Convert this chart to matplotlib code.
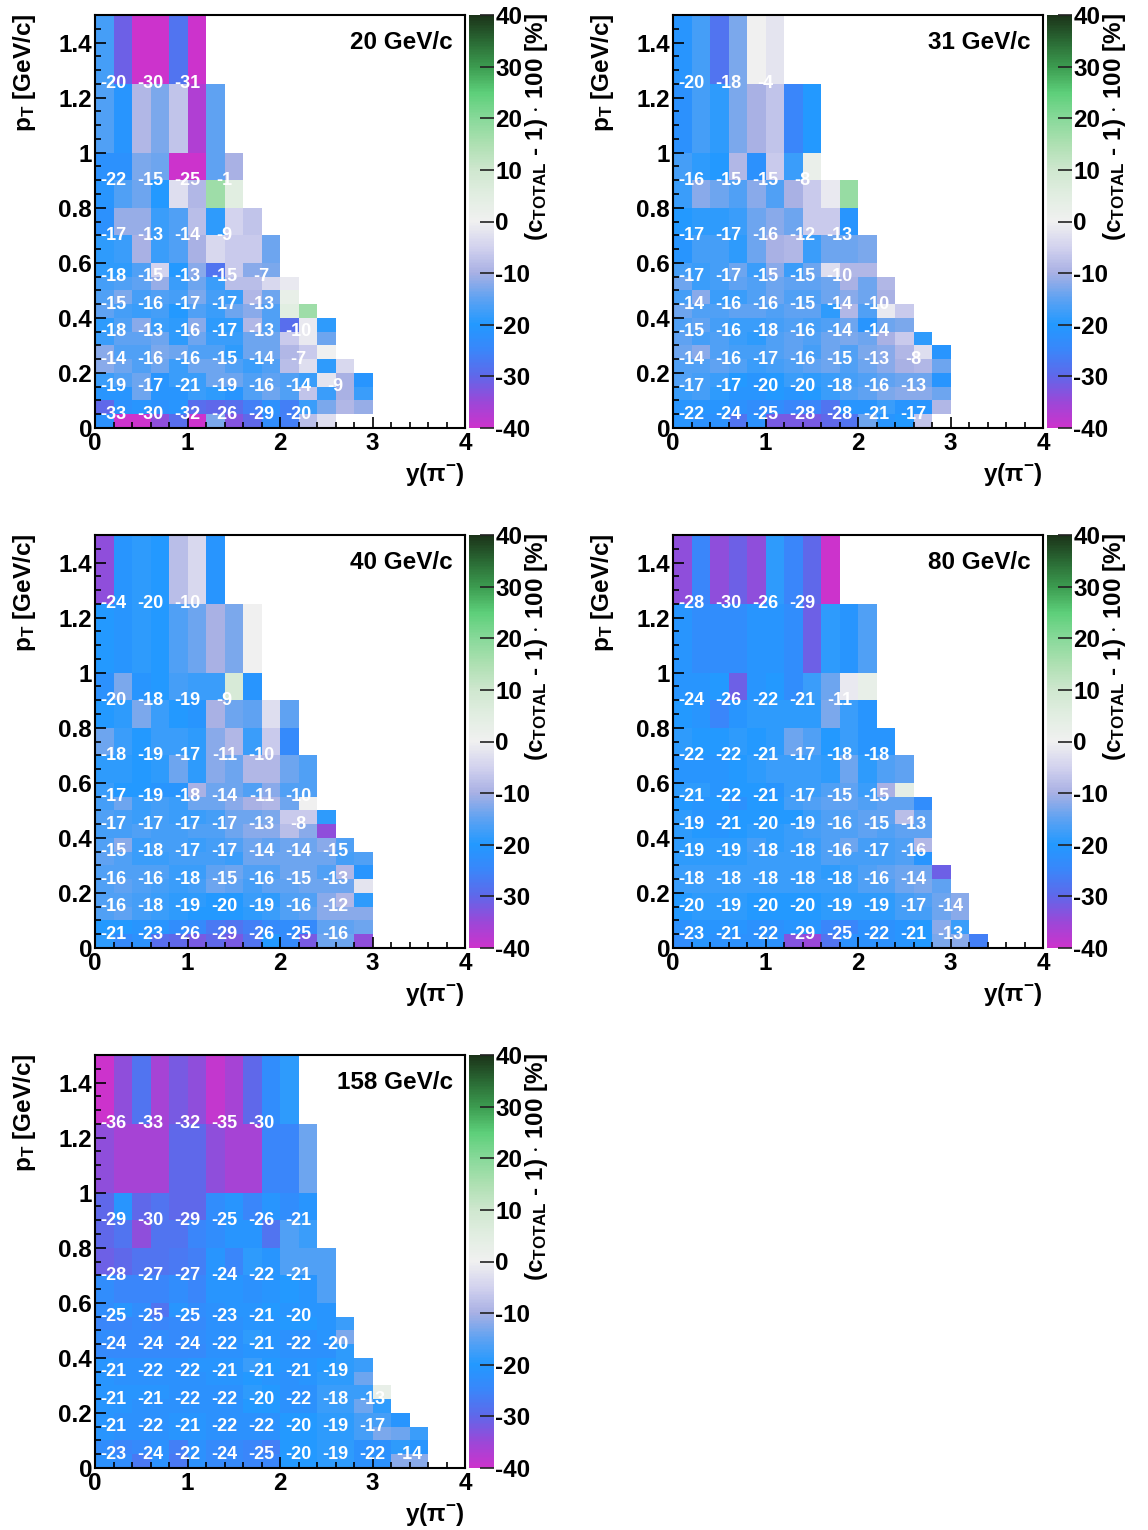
import numpy as np
import matplotlib
matplotlib.use('Agg')
import matplotlib.pyplot as plt
from matplotlib.colors import LinearSegmentedColormap, Normalize

plt.rcParams['font.family'] = ['Liberation Sans', 'DejaVu Sans']
plt.rcParams['font.weight'] = 'bold'
plt.rcParams['axes.unicode_minus'] = False
plt.rcParams['mathtext.fontset'] = 'custom'
plt.rcParams['mathtext.rm'] = 'Liberation Sans:bold'
plt.rcParams['mathtext.bf'] = 'Liberation Sans:bold'
plt.rcParams['mathtext.it'] = 'Liberation Sans:bold'

# ---------------- data ----------------
energies = ['20 GeV/c', '31 GeV/c', '40 GeV/c', '80 GeV/c', '158 GeV/c']
y_edges = [0.2 * i for i in range(21)]
pt_edges = [0, 0.05, 0.1, 0.15, 0.2, 0.25, 0.3, 0.35, 0.4, 0.45, 0.5, 0.55, 0.6,
            0.7, 0.8, 0.9, 1.0, 1.25, 1.5]
coarse_pt = [0.05, 0.15, 0.25, 0.35, 0.45, 0.55, 0.7, 0.9, 1.25]
coarse_y = [0.2, 0.6, 1.0, 1.4, 1.8, 2.2, 2.6, 3.0, 3.4, 3.8]

# fine cells, rows listed from top (pT 1.25-1.5) to bottom (pT 0-0.05)
fine_20 = [
    [-17, -31, -40, -40, -28, -40],
    [-16, -21, -9, -13, -7, -37, -15],
    [-22, -22, -13, -14, -40, -40, -15, -10],
    [-21, -16, -14, -20, -3, -9, 17, 5],
    [-22, -11, -11, -18, -16, -8, -19, -5, -7],
    [-19, -18, -10, -18, -16, -10, -4, -6, -6, -14],
    [-19, -19, -16, -5, -20, -12, -28, -6, -12, -13],
    [-17, -16, -15, -11, -18, -14, -18, -8, -8, -4, -1],
    [-16, -13, -17, -16, -17, -13, -17, -18, -9, -14, 3],
    [-15, -17, -18, -17, -20, -16, -18, -14, -12, -16, 5, 17],
    [-19, -16, -12, -18, -19, -12, -19, -19, -9, -16, -29, -1, -19],
    [-18, -15, -15, -14, -19, -14, -18, -18, -14, -14, -6, -1, -14],
    [-12, -16, -16, -13, -14, -16, -16, -19, -14, -14, -9, -6, 0],
    [-12, -14, -16, -14, -18, -14, -14, -16, -18, -16, -8, -3, -19, -4],
    [-18, -16, -14, -21, -18, -18, -14, -14, -16, -15, -16, -18, -2, -10, -21],
    [-21, -21, -14, -21, -21, -18, -19, -21, -16, -14, -16, -7, -18, -10, -18],
    [-30, -22, -21, -22, -21, -29, -30, -29, -26, -22, -26, -18, -13, -9, -11],
    [-22, -40, -40, -34, -29, -40, -13, -33, -30, -23, -26, -8, -3],
]
fine_31 = [
    [-21, -17, -28, -13, 0, -2],
    [-22, -17, -19, -13, -10, -7, -25, -20],
    [-17, -19, -20, -9, -22, -6, -18, 2],
    [-18, -12, -14, -16, -12, -16, -10, -6, -1, 18],
    [-20, -19, -19, -18, -14, -12, -14, -6, -6, -21],
    [-21, -17, -17, -19, -14, -10, -9, -18, -14, -14, -13],
    [-17, -18, -17, -14, -18, -12, -18, -14, -3, -9, -9],
    [-14, -18, -17, -15, -16, -14, -15, -15, -14, -10, -14, -9],
    [-17, -12, -18, -18, -16, -14, -16, -16, -14, -12, -14, -10],
    [-14, -16, -16, -15, -15, -16, -15, -15, -19, -9, -16, -1, -6],
    [-16, -15, -17, -18, -18, -17, -16, -17, -16, -14, -21, -14, -13],
    [-15, -17, -16, -18, -19, -16, -15, -16, -14, -13, -14, -10, -6, -19],
    [-14, -12, -16, -17, -17, -16, -15, -17, -14, -16, -13, -12, -9, -3, -21],
    [-16, -16, -15, -16, -18, -17, -16, -15, -14, -16, -14, -12, -10, -9, -14],
    [-16, -17, -18, -20, -21, -20, -18, -19, -18, -17, -16, -15, -14, -14, -21],
    [-18, -17, -19, -21, -21, -20, -21, -20, -18, -16, -15, -13, -12, -12, -14],
    [-21, -21, -21, -22, -23, -23, -25, -25, -28, -21, -21, -18, -21, -21, -9],
    [-21, -22, -22, -28, -22, -32, -32, -32, -30, -28, -14, -21, -20, -7],
]
fine_40 = [
    [-34, -21, -19, -20, -8, -4, -21],
    [-20, -21, -19, -20, -16, -14, -10, -13, 0],
    [-22, -13, -21, -20, -17, -18, -18, 8, -21],
    [-20, -19, -13, -18, -20, -21, -10, -14, -15, -3, -15],
    [-14, -18, -20, -18, -18, -19, -12, -9, -18, -6, -24],
    [-19, -19, -20, -19, -14, -19, -12, -14, -9, -9, -14, -16],
    [-18, -20, -20, -21, -21, -10, -14, -14, -16, -12, -16, -16],
    [-17, -14, -18, -17, -18, -14, -14, -12, -10, -9, -14, 0],
    [-16, -17, -18, -17, -18, -18, -17, -14, -14, -13, -6, -6, -19],
    [-17, -17, -16, -17, -17, -16, -16, -14, -12, -12, -8, -12, -34],
    [-16, -12, -18, -17, -17, -18, -17, -16, -14, -15, -14, -14, -12, -16],
    [-15, -16, -18, -18, -17, -17, -17, -18, -14, -14, -14, -14, -14, -17, -16],
    [-16, -16, -16, -16, -18, -18, -15, -14, -16, -16, -14, -14, -16, -9, -21],
    [-16, -15, -16, -17, -18, -17, -14, -15, -17, -15, -15, -14, -14, -14, -2],
    [-16, -16, -17, -18, -19, -19, -20, -20, -18, -19, -16, -16, -12, -9, -19],
    [-16, -15, -17, -18, -19, -20, -20, -20, -19, -18, -16, -15, -12, -12, -12],
    [-20, -20, -21, -21, -23, -24, -27, -28, -26, -24, -23, -24, -15, -15, -14],
    [-19, -24, -22, -29, -30, -32, -30, -32, -28, -20, -24, -32, -14, -14, -34],
]
fine_80 = [
    [-34, -25, -34, -31, -34, -19, -25, -30, -40],
    [-21, -23, -23, -23, -21, -21, -23, -31, -19, -21, -16],
    [-21, -21, -20, -31, -21, -20, -23, -18, -14, -1, 3],
    [-20, -21, -25, -21, -19, -19, -19, -19, -13, -18, -21],
    [-19, -20, -20, -19, -20, -19, -14, -16, -20, -18, -21, -21],
    [-21, -21, -21, -20, -19, -18, -18, -18, -19, -14, -19, -16, -15],
    [-19, -19, -21, -20, -20, -21, -18, -18, -16, -15, -18, -10, 4],
    [-20, -21, -20, -22, -20, -20, -17, -16, -15, -15, -16, -15, -15, -23],
    [-19, -21, -21, -20, -20, -20, -20, -18, -16, -16, -15, -15, -8, -15],
    [-19, -20, -21, -20, -19, -19, -18, -17, -16, -16, -15, -16, -15, -15],
    [-19, -19, -19, -19, -17, -19, -18, -18, -16, -14, -17, -17, -16, -9],
    [-19, -19, -19, -19, -18, -18, -18, -18, -16, -17, -17, -17, -16, -21],
    [-18, -18, -18, -18, -18, -18, -18, -18, -19, -18, -16, -15, -14, -14, -31],
    [-18, -18, -18, -18, -18, -18, -18, -18, -18, -18, -16, -16, -14, -13, -15],
    [-20, -19, -19, -19, -20, -20, -20, -20, -19, -19, -19, -19, -17, -16, -14, -12],
    [-20, -19, -19, -19, -20, -20, -20, -20, -19, -19, -19, -19, -17, -17, -14, -12],
    [-22, -21, -21, -21, -22, -22, -21, -21, -25, -25, -22, -22, -21, -20, -12, -18],
    [-23, -21, -22, -22, -22, -22, -33, -35, -28, -22, -22, -22, -21, -20, -13, -12, -26],
]
fine_158 = [
    [-40, -34, -28, -36, -32, -34, -39, -36, -30, -23, -19],
    [-34, -36, -36, -36, -30, -30, -34, -36, -36, -25, -25, -14],
    [-30, -21, -30, -28, -30, -30, -23, -21, -25, -21, -23, -21],
    [-30, -28, -34, -28, -28, -25, -23, -21, -21, -28, -16, -18],
    [-31, -30, -28, -28, -27, -26, -21, -25, -19, -21, -16, -16, -16],
    [-23, -25, -25, -25, -23, -25, -21, -21, -22, -21, -20, -21, -16],
    [-23, -21, -23, -28, -21, -23, -22, -21, -21, -20, -21, -21, -21],
    [-25, -25, -24, -25, -24, -24, -22, -22, -21, -21, -20, -20, -21, -18],
    [-23, -24, -24, -23, -24, -23, -22, -22, -19, -21, -22, -22, -21, -13],
    [-24, -24, -24, -24, -24, -24, -22, -22, -21, -21, -22, -22, -22, -19],
    [-21, -22, -22, -22, -22, -21, -21, -21, -18, -20, -21, -21, -20, -19, -18],
    [-21, -22, -22, -22, -22, -22, -21, -21, -20, -21, -22, -21, -19, -19, -14],
    [-21, -21, -21, -21, -22, -22, -22, -22, -19, -20, -22, -22, -18, -18, -18, 3],
    [-21, -21, -22, -22, -22, -22, -22, -22, -20, -20, -22, -22, -18, -18, -14, -19],
    [-21, -22, -22, -22, -21, -21, -22, -22, -22, -22, -20, -20, -19, -19, -17, -17, -21],
    [-21, -22, -22, -22, -21, -21, -22, -22, -22, -22, -20, -20, -19, -19, -17, -13, -14, -18],
    [-23, -25, -24, -22, -26, -22, -24, -24, -25, -26, -20, -20, -19, -19, -22, -22, -19, -21],
    [-22, -23, -27, -22, -27, -22, -24, -24, -25, -25, -20, -20, -19, -19, -22, -22, -12, -12],
]

# coarse-bin text values, rows from bottom (pT 0-0.1) to top (pT 1.0-1.5)
labels_20 = [
    [-33, -30, -32, -26, -29, -20],
    [-19, -17, -21, -19, -16, -14, -9],
    [-14, -16, -16, -15, -14, -7],
    [-18, -13, -16, -17, -13, -10],
    [-15, -16, -17, -17, -13],
    [-18, -15, -13, -15, -7],
    [-17, -13, -14, -9],
    [-22, -15, -25, -1],
    [-20, -30, -31],
]
labels_31 = [
    [-22, -24, -25, -28, -28, -21, -17],
    [-17, -17, -20, -20, -18, -16, -13],
    [-14, -16, -17, -16, -15, -13, -8],
    [-15, -16, -18, -16, -14, -14],
    [-14, -16, -16, -15, -14, -10],
    [-17, -17, -15, -15, -10],
    [-17, -17, -16, -12, -13],
    [-16, -15, -15, -8],
    [-20, -18, -4],
]
labels_40 = [
    [-21, -23, -26, -29, -26, -25, -16],
    [-16, -18, -19, -20, -19, -16, -12],
    [-16, -16, -18, -15, -16, -15, -13],
    [-15, -18, -17, -17, -14, -14, -15],
    [-17, -17, -17, -17, -13, -8],
    [-17, -19, -18, -14, -11, -10],
    [-18, -19, -17, -11, -10],
    [-20, -18, -19, -9],
    [-24, -20, -10],
]
labels_80 = [
    [-23, -21, -22, -29, -25, -22, -21, -13],
    [-20, -19, -20, -20, -19, -19, -17, -14],
    [-18, -18, -18, -18, -18, -16, -14],
    [-19, -19, -18, -18, -16, -17, -16],
    [-19, -21, -20, -19, -16, -15, -13],
    [-21, -22, -21, -17, -15, -15],
    [-22, -22, -21, -17, -18, -18],
    [-24, -26, -22, -21, -11],
    [-28, -30, -26, -29],
]
labels_158 = [
    [-23, -24, -22, -24, -25, -20, -19, -22, -14],
    [-21, -22, -21, -22, -22, -20, -19, -17],
    [-21, -21, -22, -22, -20, -22, -18, -13],
    [-21, -22, -22, -21, -21, -21, -19],
    [-24, -24, -24, -22, -21, -22, -20],
    [-25, -25, -25, -23, -21, -20],
    [-28, -27, -27, -24, -22, -21],
    [-29, -30, -29, -25, -26, -21],
    [-36, -33, -32, -35, -30],
]

fines = [fine_20, fine_31, fine_40, fine_80, fine_158]
labels = [labels_20, labels_31, labels_40, labels_80, labels_158]

# ---------------- style ----------------
W, H = 1148, 1530
cm_vals = [-40, -35, -30, -25, -20, -15, -10, -5, 0, 5, 10, 15, 20, 25, 30, 35, 40]
cm_cols = ['#cc33cc', '#9a48d8', '#5f68ea', '#3a86fa', '#2299ff', '#5ea2f2',
           '#a8b0e4', '#d2d2ee', '#f0f0f0', '#e2eee2', '#cfe7cf', '#aee0b2',
           '#88d99a', '#5dcf7a', '#3c9c50', '#2a6a34', '#1b3319']
cmap = LinearSegmentedColormap.from_list(
    'root', [((v + 40) / 80, c) for v, c in zip(cm_vals, cm_cols)])
norm = Normalize(-40, 40)

panel_px = [(95, 15), (673, 15), (95, 535), (673, 535), (95, 1055)]
AW, AH = 370, 413
TICKFS = 17.5
LABFS = 17.5

fig = plt.figure(figsize=(W / 100, H / 100), dpi=100)


def to_grid(rows_top_down):
    g = np.full((len(pt_edges) - 1, len(y_edges) - 1), np.nan)
    n = len(rows_top_down)
    for i, row in enumerate(rows_top_down):
        g[n - 1 - i, :len(row)] = row
    return np.ma.masked_invalid(g)


for k in range(5):
    x0, y0 = panel_px[k]
    ax = fig.add_axes([x0 / W, 1 - (y0 + AH) / H, AW / W, AH / H])
    mesh = ax.pcolormesh(y_edges, pt_edges, to_grid(fines[k]), cmap=cmap, norm=norm)
    for r, row in enumerate(labels[k]):
        for c, v in enumerate(row):
            ax.text(coarse_y[c], coarse_pt[r], '%d' % v, color='white',
                    fontsize=13, fontweight='bold', ha='center', va='center')
    ax.set_xlim(0, 4)
    ax.set_ylim(0, 1.5)
    ax.set_xticks([0, 1, 2, 3, 4])
    ax.set_xticklabels(['0', '1', '2', '3', '4'])
    ax.set_xticks(np.arange(0, 4.01, 0.2), minor=True)
    yt = [0, 0.2, 0.4, 0.6, 0.8, 1.0, 1.2, 1.4]
    ax.set_yticks(yt)
    ax.set_yticklabels(['0', '0.2', '0.4', '0.6', '0.8', '1', '1.2', '1.4'])
    ax.set_yticks(np.arange(0, 1.51, 0.05), minor=True)
    ax.tick_params(axis='both', which='both', direction='in', top=False, right=False,
                   width=1.2, color='black')
    ax.tick_params(axis='x', which='major', length=8, pad=3, labelsize=TICKFS)
    ax.tick_params(axis='x', which='minor', length=4)
    ax.tick_params(axis='y', which='major', length=8, pad=2, labelsize=TICKFS)
    ax.tick_params(axis='y', which='minor', length=4)
    for lab in ax.get_xticklabels() + ax.get_yticklabels():
        lab.set_fontweight('bold')
    for s in ax.spines.values():
        s.set_linewidth(1.5)
    ax.text(0.967, 0.933, energies[k], transform=ax.transAxes, ha='right', va='center',
            fontsize=17.5, fontweight='bold')
    ax.text(1.0, -47 / AH, r'y($\mathbf{\pi^{-}}$)', transform=ax.transAxes,
            ha='right', va='center', fontsize=LABFS, fontweight='bold')
    fig.text((x0 - 70) / W, 1 - (y0 - 1) / H, r'p$_{\mathbf{T}}$ [GeV/c]', rotation=90,
             ha='center', va='top', fontsize=LABFS, fontweight='bold')

    cax = fig.add_axes([(x0 + AW + 4) / W, 1 - (y0 + AH) / H, 25 / W, AH / H])
    cb = fig.colorbar(mesh, cax=cax, ticks=[-40, -30, -20, -10, 0, 10, 20, 30, 40])
    cb.outline.set_visible(False)
    cax.tick_params(direction='in', length=10, width=1.2, pad=1, labelsize=TICKFS,
                    color='#222222')
    cax.minorticks_off()
    cax.set_yticklabels(['-40', '-30', '-20', '-10', '0', '10', '20', '30', '40'])
    for lab in cax.get_yticklabels():
        lab.set_fontweight('bold')
    fig.text((x0 + AW + 72) / W, 1 - (y0 - 2) / H,
             r'(c$_{\mathbf{TOTAL}}$ - 1) $\cdot$ 100 [%]', rotation=90,
             ha='center', va='top', fontsize=LABFS, fontweight='bold')

fig.savefig('out.png', dpi=100)
